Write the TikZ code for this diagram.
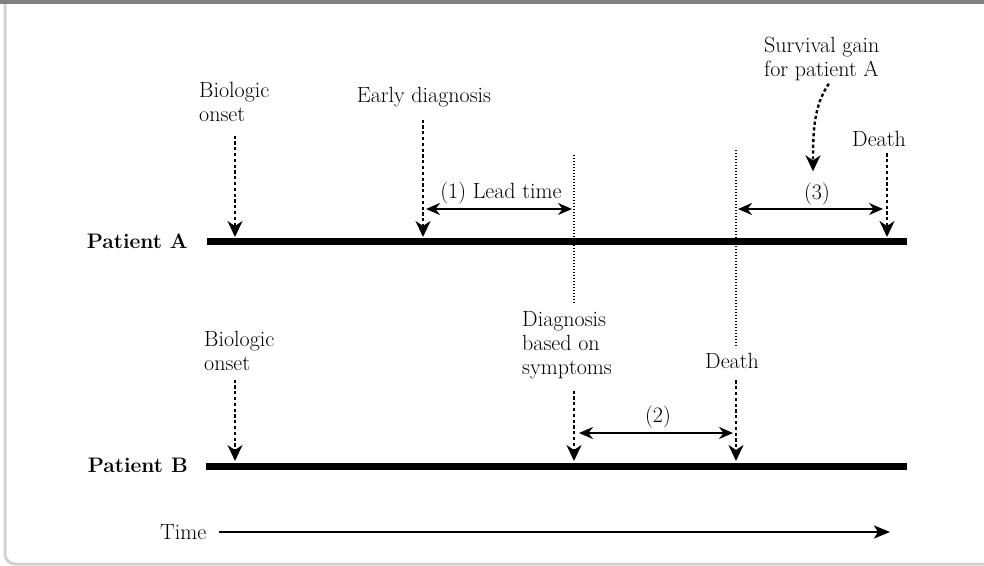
\documentclass[tikz,border=0pt]{standalone}
\usetikzlibrary{arrows.meta, positioning}

\begin{document}
\begin{tikzpicture}[x=1pt, y=-1pt, >=Stealth,
  every node/.style={inner sep=0pt, align=left, font=\fontsize{22}{24}\selectfont},
  bar/.style={line width=7pt},
  cue/.style={-{Stealth[length=16pt, width=15pt, inset=5pt]}, line width=2.4pt, dash pattern=on 3.2pt off 2.6pt},
  span/.style={{Stealth[length=14pt, width=12pt, inset=4.5pt]}-{Stealth[length=14pt, width=12pt, inset=4.5pt]}, line width=2pt},
  marker/.style={line width=1.4pt, dash pattern=on 1.4pt off 1.6pt}]

% page frame
\useasboundingbox (0,0) rectangle (984,565);
\fill[black!50] (0,0) rectangle (984,4);
\draw[black!18, line width=3pt, rounded corners=10pt] (5,4) -- (5,564) -- (990,564);

% Patient A
\node[anchor=base east, font=\fontsize{21}{24}\selectfont\bfseries] (patA) at (188,248) {Patient A};
\node[anchor=north west] (onsetA) at (199,81.7) {Biologic\\onset};
\node[anchor=base] (earlyA) at (424,102) {Early diagnosis};
\node[anchor=north west] (survA) at (764,36.7) {Survival gain\\for patient A};
\node[anchor=base west] (deathA) at (852,146) {Death};
\node[anchor=base] (leadA) at (501,198) {(1) Lead time};
\node[anchor=base] (gainA) at (817,199) {(3)};

\coordinate (a1) at (235,237);
\coordinate (a2) at (423,237);
\coordinate (a3) at (887,237);

% Patient B
\node[anchor=base east, font=\fontsize{21}{24}\selectfont\bfseries] (patB) at (188,472) {Patient B};
\node[anchor=north west] (onsetB) at (204,330.7) {Biologic\\onset};
\node[anchor=north west] (diagB) at (522,311.7) {Diagnosis\\based on\\symptoms};
\node[anchor=base west] (deathB) at (705,368) {Death};
\node[anchor=base] (gapB) at (658,422) {(2)};

\coordinate (b1) at (235,461);
\coordinate (b2) at (574,461);
\coordinate (b3) at (736,461);

% dotted markers carried over from B
\coordinate (m1) at (574,155);
\coordinate (m2) at (736,150);
\draw[marker] (m1) -- ([yshift=9pt]m1 |- diagB.north);
\draw[marker] (m2) -- ([yshift=6pt]m2 |- deathB.north);

% timelines
\draw[bar] ([shift={(19pt,6.5pt)}]patA.base east) -- ++(700,0);
\draw[bar] ([shift={(18pt,6pt)}]patB.base east) -- ++(701,0);

% events
\draw[cue] ([yshift=-14pt]a1 |- onsetA.south) -- (a1);
\draw[cue] ([yshift=-13pt]a2 |- earlyA.south) -- (a2);
\draw[cue] ([yshift=-7pt]a3 |- deathA.south) -- (a3);
\draw[cue] ([yshift=-9pt]b1 |- onsetB.south) -- (b1);
\draw[cue] ([yshift=-11pt]b2 |- diagB.south) -- (b2);
\draw[cue] ([yshift=-12pt]b3 |- deathB.south) -- (b3);
\draw[cue] ([shift={(7pt,-3pt)}]survA.south) .. controls +(-15,22) and +(0,-40) .. ([shift={(-4pt,11pt)}]gainA.north);

% intervals
\draw[span] ([shift={(3pt,-11pt)}]a2 |- leadA.base) -- ([shift={(-2pt,-11pt)}]m1 |- leadA.base);
\draw[span] ([shift={(2pt,-10pt)}]m2 |- gainA.base) -- ([shift={(-4pt,-10pt)}]a3 |- gainA.base);
\draw[span] ([shift={(5pt,-11pt)}]b2 |- gapB.base) -- ([shift={(-3pt,-11pt)}]b3 |- gapB.base);

% time axis
\node[anchor=base west] (timelbl) at (160,539) {Time};
\coordinate (tEnd) at (890,532);
\draw[-{Stealth[length=16pt, width=13pt, inset=4pt]}, line width=2.2pt] ([shift={(12pt,7pt)}]timelbl.base east) -- (tEnd);

\end{tikzpicture}
\end{document}
